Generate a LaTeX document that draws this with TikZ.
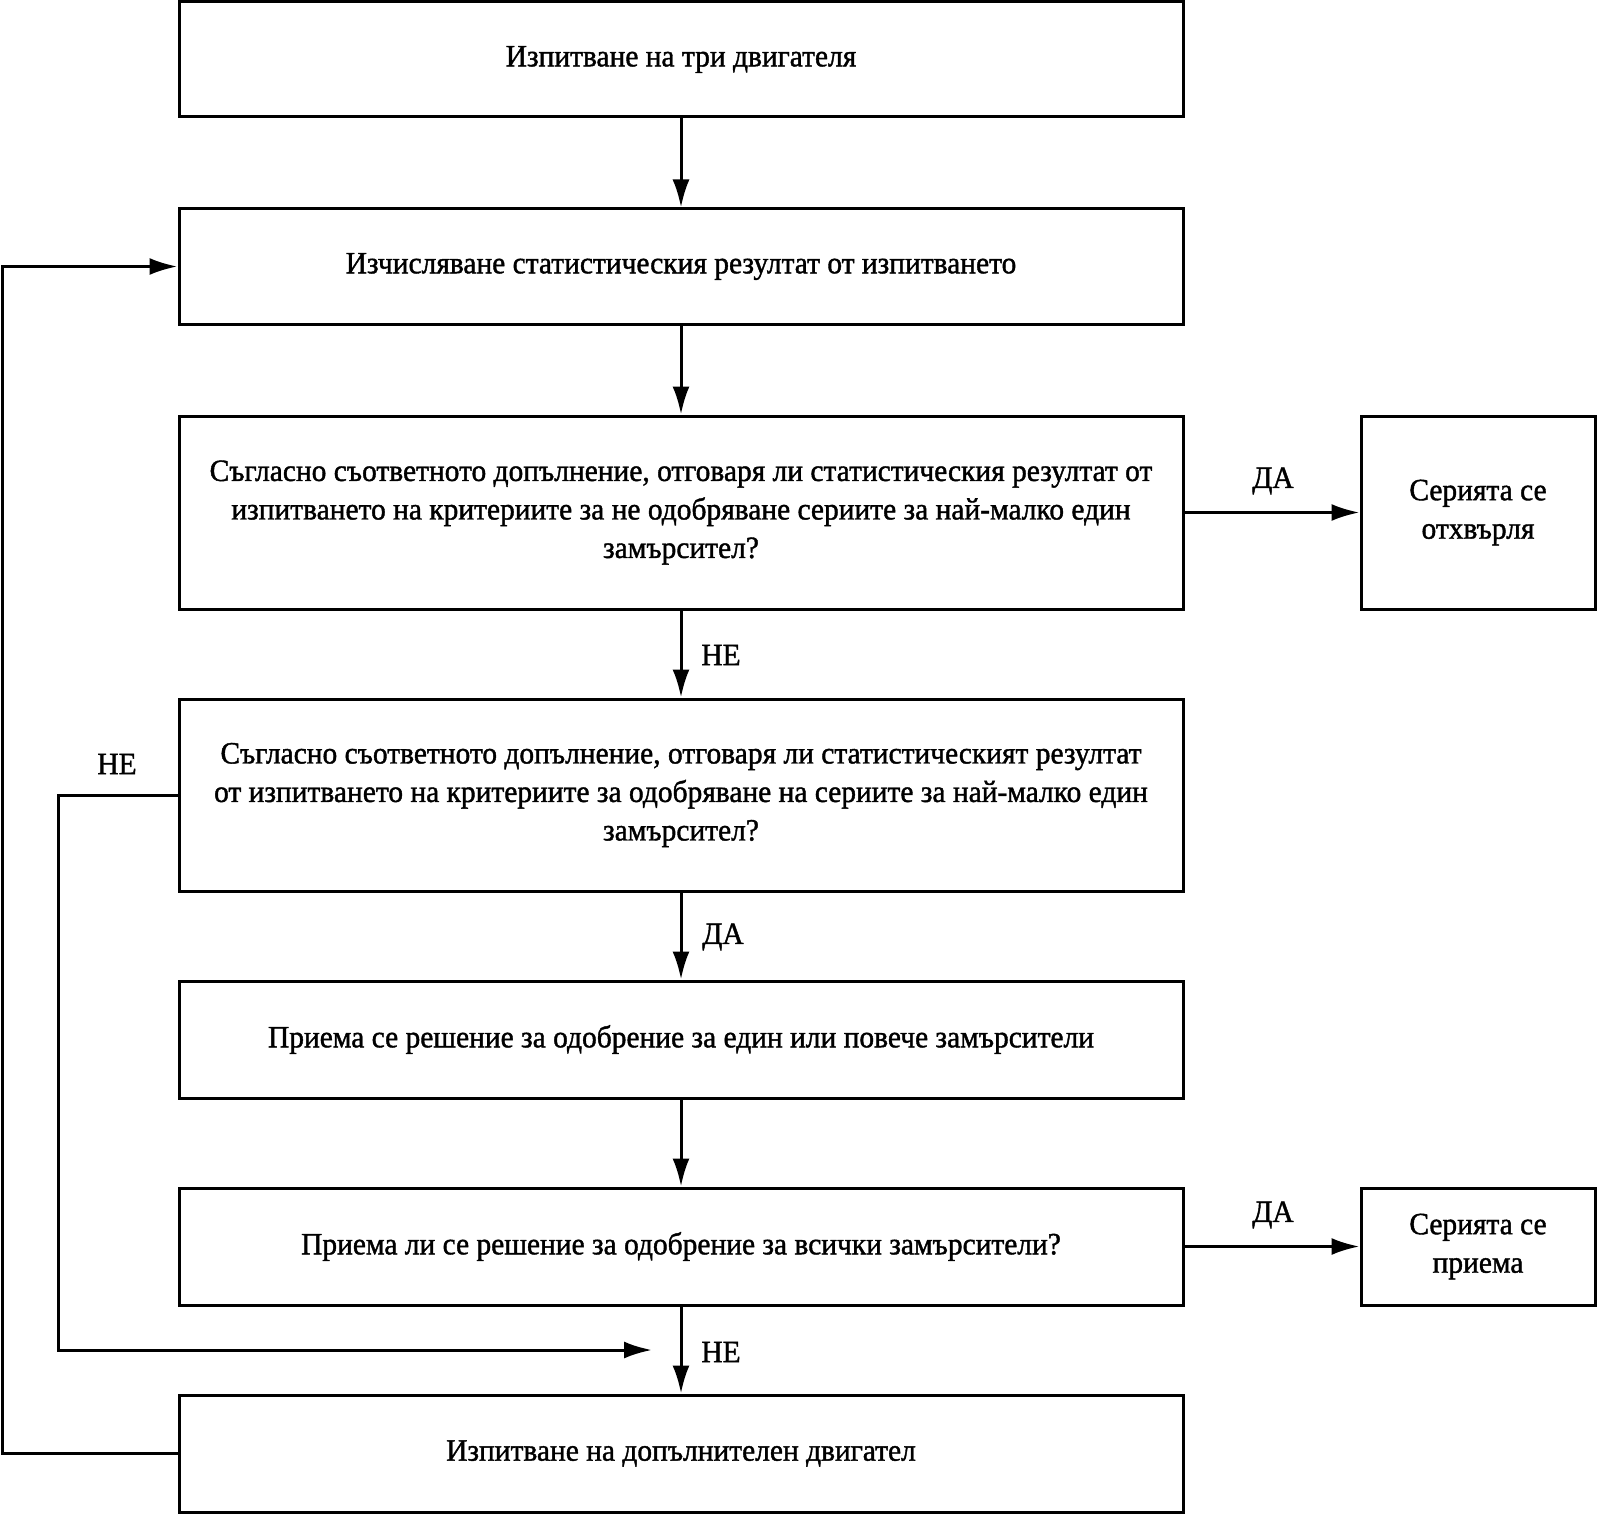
\documentclass[tikz,border=0pt]{standalone}
\usepackage{fontspec}
\setmainfont[FakeStretch=0.95,FakeBold=1.3]{Liberation Serif}
\usetikzlibrary{arrows.meta}
\begin{document}
\begin{tikzpicture}[x=1pt,y=-1pt,
  box/.style={draw,line width=3pt,rectangle,inner sep=0pt,align=center,font=\fontsize{31}{38.5}\selectfont},
  wide/.style={box,minimum width=1004pt},
  side/.style={box,minimum width=234pt},
  lbl/.style={font=\fontsize{31}{36}\selectfont,inner sep=0pt},
  arr/.style={line width=3pt,-{Latex[length=28pt,width=17pt]}},
  ln/.style={line width=3pt}]
\useasboundingbox (0,0) rectangle (1597,1514);
\node[wide,minimum height=115pt] (b1) at (681,59.5) {Изпитване на три двигателя};
\node[wide,minimum height=115pt] (b2) at (681,266.5) {Изчисляване статистическия резултат от изпитването};
\node[wide,minimum height=193pt] (b3) at (681,512.5) {Съгласно съответното допълнение, отговаря ли статистическия резултат от\\изпитването на критериите за не одобряване сериите за най-малко един\\замърсител?};
\node[wide,minimum height=192pt] (b4) at (681,795) {Съгласно съответното допълнение, отговаря ли статистическият резултат\\от изпитването на критериите за одобряване на сериите за най-малко един\\замърсител?};
\node[wide,minimum height=117pt] (b5) at (681,1039.5) {Приема се решение за одобрение за един или повече замърсители};
\node[wide,minimum height=117pt] (b6) at (681,1246.5) {Приема ли се решение за одобрение за всички замърсители?};
\node[wide,minimum height=117pt] (b7) at (681,1453.5) {Изпитване на допълнителен двигател};
\node[side,minimum height=193pt] (r1) at (1478,512.5) {Серията се\\отхвърля};
\node[side,minimum height=117pt] (r2) at (1478,1246.5) {Серията се\\приема};
\draw[arr] (b1) -- (b2);
\draw[arr] (b2) -- (b3);
\draw[arr] (b3) -- (b4);
\draw[arr] (b4) -- (b5);
\draw[arr] (b5) -- (b6);
\draw[arr] (b6) -- (b7);
\draw[arr] (b3) -- (r1);
\draw[arr] (b6) -- (r2);
\coordinate (lo) at (2,1453.5);
\coordinate (li) at (58,795);
\coordinate (mid) at (652,1350);
\draw[arr] (b7.west) -- (lo) |- (b2.west);
\draw[ln] (b4.west) -- (li) |- ([xshift=-24pt]mid);
\draw[arr] ([xshift=-30pt]mid) -- (mid);
\node[lbl] (t1) at (1273,481) {ДА};
\node[lbl] (t2) at (721,655) {НЕ};
\node[lbl] (t3) at (117,764) {НЕ};
\node[lbl] (t4) at (723,937) {ДА};
\node[lbl] (t5) at (1273,1215) {ДА};
\node[lbl] (t6) at (721,1352) {НЕ};
\end{tikzpicture}
\end{document}
